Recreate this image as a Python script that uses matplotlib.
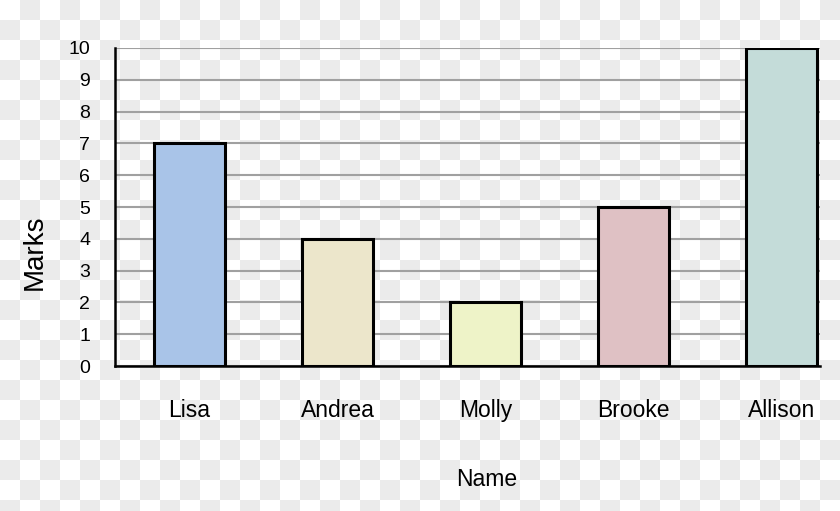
import numpy as np
import matplotlib
matplotlib.use("Agg")
import matplotlib.pyplot as plt

names = ["Lisa", "Andrea", "Molly", "Brooke", "Allison"]
marks = [7, 4, 2, 5, 10]
bar_colors = ["#a9c4e8", "#ece6cb", "#eef3c8", "#dfc1c4", "#c4dcd9"]
y_ticks = list(range(0, 11))

plt.rcParams['font.family'] = ['Liberation Sans', 'DejaVu Sans']

W, H = 840, 511
fig = plt.figure(figsize=(W / 100, H / 100), dpi=100)

# transparency-style checkerboard background
yy, xx = np.mgrid[0:H, 0:W]
tile = ((xx // 20) + (yy // 20)) % 2
bg = np.where(tile[..., None] == 1, np.array([235, 235, 235]), np.array([255, 255, 255])).astype(np.uint8)
fig.figimage(bg, xo=0, yo=0, zorder=-10, origin="upper")

ax = fig.add_axes([115 / W, 145 / H, (820 - 115) / W, (366 - 48) / H])
ax.set_zorder(1)
ax.set_facecolor("none")
x = np.arange(len(names))
ax.bar(x, marks, width=0.48, color=bar_colors, edgecolor="black", linewidth=2.2, zorder=3)

ax.set_ylim(0, 10)
ax.set_xlim(-0.503, 4.26)
ax.set_yticks(y_ticks)
ax.set_yticklabels([str(t) for t in y_ticks], fontsize=14)
ax.set_xticks(x)
ax.set_xticklabels(names, fontsize=16.5)
ax.tick_params(axis="y", length=0, pad=18)
ax.tick_params(axis="x", length=0, pad=24)
ax.yaxis.grid(True, color="#a0a0a0", linewidth=1.5, zorder=1)
ax.set_axisbelow(True)
for s in ["top", "right"]:
    ax.spines[s].set_visible(False)
for s in ["left", "bottom"]:
    ax.spines[s].set_color("black")
    ax.spines[s].set_linewidth(1.8)
    ax.spines[s].set_zorder(4)

fig.text(487 / W, 1 - 480 / H, "Name", fontsize=16.5, ha="center", va="center")
fig.text(35 / W, 1 - 252 / H, "Marks", fontsize=20, ha="center", va="center", rotation=90)

fig.savefig("out.png", dpi=100)
